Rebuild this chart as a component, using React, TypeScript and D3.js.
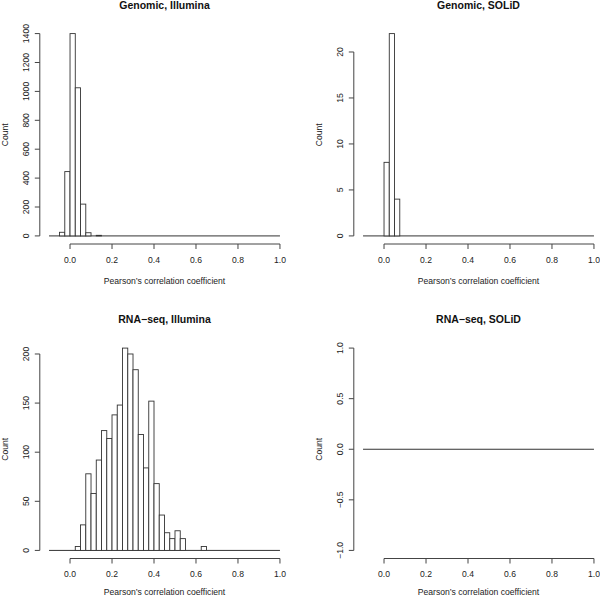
import React from "react";
import * as d3 from "d3";

// histogram bins are 0.025 wide; each array holds the left edge of a bin
const binWidth = 0.025;
const xLimits = [-0.1, 1.0];
const xTicks = [0, 0.2, 0.4, 0.6, 0.8, 1.0];

const genomicIlluminaStarts = [-0.05, -0.025, 0, 0.025, 0.05, 0.075, 0.125];
const genomicIlluminaCounts = [25, 445, 1400, 1025, 220, 22, 4];
const genomicIlluminaTicks = [0, 200, 400, 600, 800, 1000, 1200, 1400];

const genomicSolidStarts = [0, 0.025, 0.05];
const genomicSolidCounts = [8, 22, 4];
const genomicSolidTicks = [0, 5, 10, 15, 20];

const rnaIlluminaStarts = [
  0.025, 0.05, 0.075, 0.1, 0.125, 0.15, 0.175, 0.2, 0.225, 0.25, 0.275, 0.3,
  0.325, 0.35, 0.375, 0.4, 0.425, 0.45, 0.475, 0.5, 0.525, 0.625,
];
const rnaIlluminaCounts = [
  4, 26, 78, 58, 92, 122, 114, 138, 148, 206, 200, 184,
  118, 84, 152, 68, 36, 18, 12, 20, 12, 4,
];
const rnaIlluminaTicks = [0, 50, 100, 150, 200];

const rnaSolidStarts: number[] = [];
const rnaSolidCounts: number[] = [];
const rnaSolidTicks = [-1, -0.5, 0, 0.5, 1];
const rnaSolidTickLabels = ["\u22121.0", "\u22120.5", "0.0", "0.5", "1.0"];

const panels = [
  { title: "Genomic, Illumina", starts: genomicIlluminaStarts, counts: genomicIlluminaCounts, ticks: genomicIlluminaTicks, labels: null as string[] | null, col: 0, row: 0 },
  { title: "Genomic, SOLiD", starts: genomicSolidStarts, counts: genomicSolidCounts, ticks: genomicSolidTicks, labels: null, col: 1, row: 0 },
  { title: "RNA\u2212seq, Illumina", starts: rnaIlluminaStarts, counts: rnaIlluminaCounts, ticks: rnaIlluminaTicks, labels: null, col: 0, row: 1 },
  { title: "RNA\u2212seq, SOLiD", starts: rnaSolidStarts, counts: rnaSolidCounts, ticks: rnaSolidTicks, labels: rnaSolidTickLabels, col: 1, row: 1 },
];

const font = "'Liberation Sans', Arial, Helvetica, sans-serif";
const ink = "#222";

// R style: pad the data range by 4% on each side
const pad = (lo: number, hi: number): [number, number] => {
  const d = (hi - lo) * 0.04;
  return [lo - d, hi + d];
};

function Panel({ p }: { p: (typeof panels)[number] }) {
  const left = 39.8 + p.col * 314;
  const right = left + 249.4;
  const top = 25.5 + p.row * 314.5;
  const bottom = top + 218.5;

  const x = d3.scaleLinear().domain(pad(xLimits[0], xLimits[1])).range([left, right]);
  const yDom: [number, number] = p.counts.length
    ? [0, d3.max(p.counts) as number]
    : [-1, 1];
  const y = d3.scaleLinear().domain(pad(yDom[0], yDom[1])).range([bottom, top]);

  const cx = (left + right) / 2;
  const cy = (top + bottom) / 2;

  return (
    <g>
      <text x={cx} y={top - 17} textAnchor="middle" fontWeight="bold" fontSize={10.5} fill="#111">
        {p.title}
      </text>

      {/* zero-count bins along the full break range */}
      <line x1={x(xLimits[0])} x2={x(xLimits[1])} y1={y(0)} y2={y(0)} stroke="#333" strokeWidth={1} />

      {p.starts.map((s, i) => (
        <rect
          key={i}
          x={x(s)}
          y={y(p.counts[i])}
          width={x(s + binWidth) - x(s)}
          height={y(0) - y(p.counts[i])}
          fill="white"
          stroke="#333"
          strokeWidth={0.9}
        />
      ))}

      {/* x axis */}
      <line x1={x(xTicks[0])} x2={x(xTicks[xTicks.length - 1])} y1={bottom} y2={bottom} stroke="#444" />
      {xTicks.map((t) => (
        <g key={t}>
          <line x1={x(t)} x2={x(t)} y1={bottom} y2={bottom + 5} stroke="#444" />
          <text x={x(t)} y={bottom + 18.5} textAnchor="middle" fontSize={8.6} fill={ink}>
            {t.toFixed(1)}
          </text>
        </g>
      ))}
      <text x={cx} y={Math.min(bottom + 40, 595)} textAnchor="middle" fontSize={8.6} fill={ink}>
        Pearson’s correlation coefficient
      </text>

      {/* y axis */}
      <line x1={left} x2={left} y1={y(p.ticks[0])} y2={y(p.ticks[p.ticks.length - 1])} stroke="#444" />
      {p.ticks.map((t, i) => (
        <g key={t}>
          <line x1={left - 5} x2={left} y1={y(t)} y2={y(t)} stroke="#444" />
          <text
            transform={`translate(${left - 11},${y(t)}) rotate(-90)`}
            textAnchor="middle"
            fontSize={8.6}
            fill={ink}
          >
            {p.labels ? p.labels[i] : String(t)}
          </text>
        </g>
      ))}
      <text transform={`translate(${left - 32},${cy}) rotate(-90)`} textAnchor="middle" fontSize={8.6} fill={ink}>
        Count
      </text>
    </g>
  );
}

export default function App() {
  return (
    <svg
      width={600}
      height={598}
      style={{ position: "absolute", left: 0, top: 0, background: "white", fontFamily: font }}
    >
      <rect width={600} height={598} fill="white" />
      {panels.map((p) => (
        <Panel key={p.title} p={p} />
      ))}
    </svg>
  );
}
